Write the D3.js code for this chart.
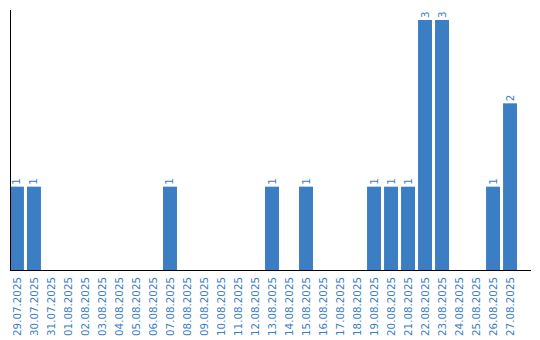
<!DOCTYPE html>
<html>
<head>
<meta charset="utf-8">
<script src="https://cdn.jsdelivr.net/npm/d3@7"></script>
<style>
  body { margin: 0; background: #fff; }
  svg text { font-family: "DejaVu Sans", sans-serif; }
</style>
</head>
<body>
<div id="chart"></div>
<script>
var dates = ["29.07.2025","30.07.2025","31.07.2025","01.08.2025","02.08.2025","03.08.2025",
  "04.08.2025","05.08.2025","06.08.2025","07.08.2025","08.08.2025","09.08.2025","10.08.2025",
  "11.08.2025","12.08.2025","13.08.2025","14.08.2025","15.08.2025","16.08.2025","17.08.2025",
  "18.08.2025","19.08.2025","20.08.2025","21.08.2025","22.08.2025","23.08.2025","24.08.2025",
  "25.08.2025","26.08.2025","27.08.2025"];
var counts = [1,1,0,0,0,0,0,0,0,1,0,0,0,0,0,1,0,1,0,0,0,1,1,1,3,3,0,0,1,2];

var width = 540, height = 340;
var color = "#3b7ec3";

var svg = d3.select("#chart").append("svg")
  .attr("width", width)
  .attr("height", height);

var x = d3.scaleBand()
  .domain(dates)
  .range([10, 517])
  .paddingInner(0.18)
  .paddingOuter(0)
  .align(0);

var y = d3.scaleLinear()
  .domain([0, 3])
  .range([270, 20]);

var rows = dates.map(function(d, i) { return {date: d, value: counts[i]}; });
var filled = rows.filter(function(d) { return d.value > 0; });

// bars
svg.selectAll("rect.bar")
  .data(filled)
  .enter().append("rect")
  .attr("class", "bar")
  .attr("x", function(d) { return x(d.date); })
  .attr("y", function(d) { return y(d.value); })
  .attr("width", x.bandwidth())
  .attr("height", function(d) { return y(0) - y(d.value); })
  .attr("fill", color);

// value labels, rotated
svg.selectAll("text.val")
  .data(filled)
  .enter().append("text")
  .attr("class", "val")
  .attr("transform", function(d) {
    return "translate(" + (x(d.date) + x.bandwidth() / 2 + 3.5) + "," + (y(d.value) - 2) + ") rotate(-90)";
  })
  .attr("font-size", "10.3px")
  .attr("fill", color)
  .text(function(d) { return d.value; });

// x axis
var xAxis = svg.append("g")
  .attr("transform", "translate(0,270)")
  .call(d3.axisBottom(x).tickSize(0).tickSizeOuter(0));
xAxis.select(".domain").remove();
xAxis.selectAll("text")
  .attr("font-size", "10.3px")
  .attr("fill", color)
  .attr("text-anchor", "end")
  .attr("dx", "-7px")
  .attr("dy", "0.35em")
  .attr("y", 0)
  .attr("x", 0)
  .attr("transform", "rotate(-90)")
  .style("font-family", "'DejaVu Sans', sans-serif");

// axis lines
svg.append("line")
  .attr("x1", 10.5).attr("x2", 10.5)
  .attr("y1", 10).attr("y2", 270)
  .attr("stroke", "#000").attr("stroke-width", 1);
svg.append("line")
  .attr("x1", 10).attr("x2", 531)
  .attr("y1", 270.5).attr("y2", 270.5)
  .attr("stroke", "#000").attr("stroke-width", 1);
</script>
</body>
</html>
